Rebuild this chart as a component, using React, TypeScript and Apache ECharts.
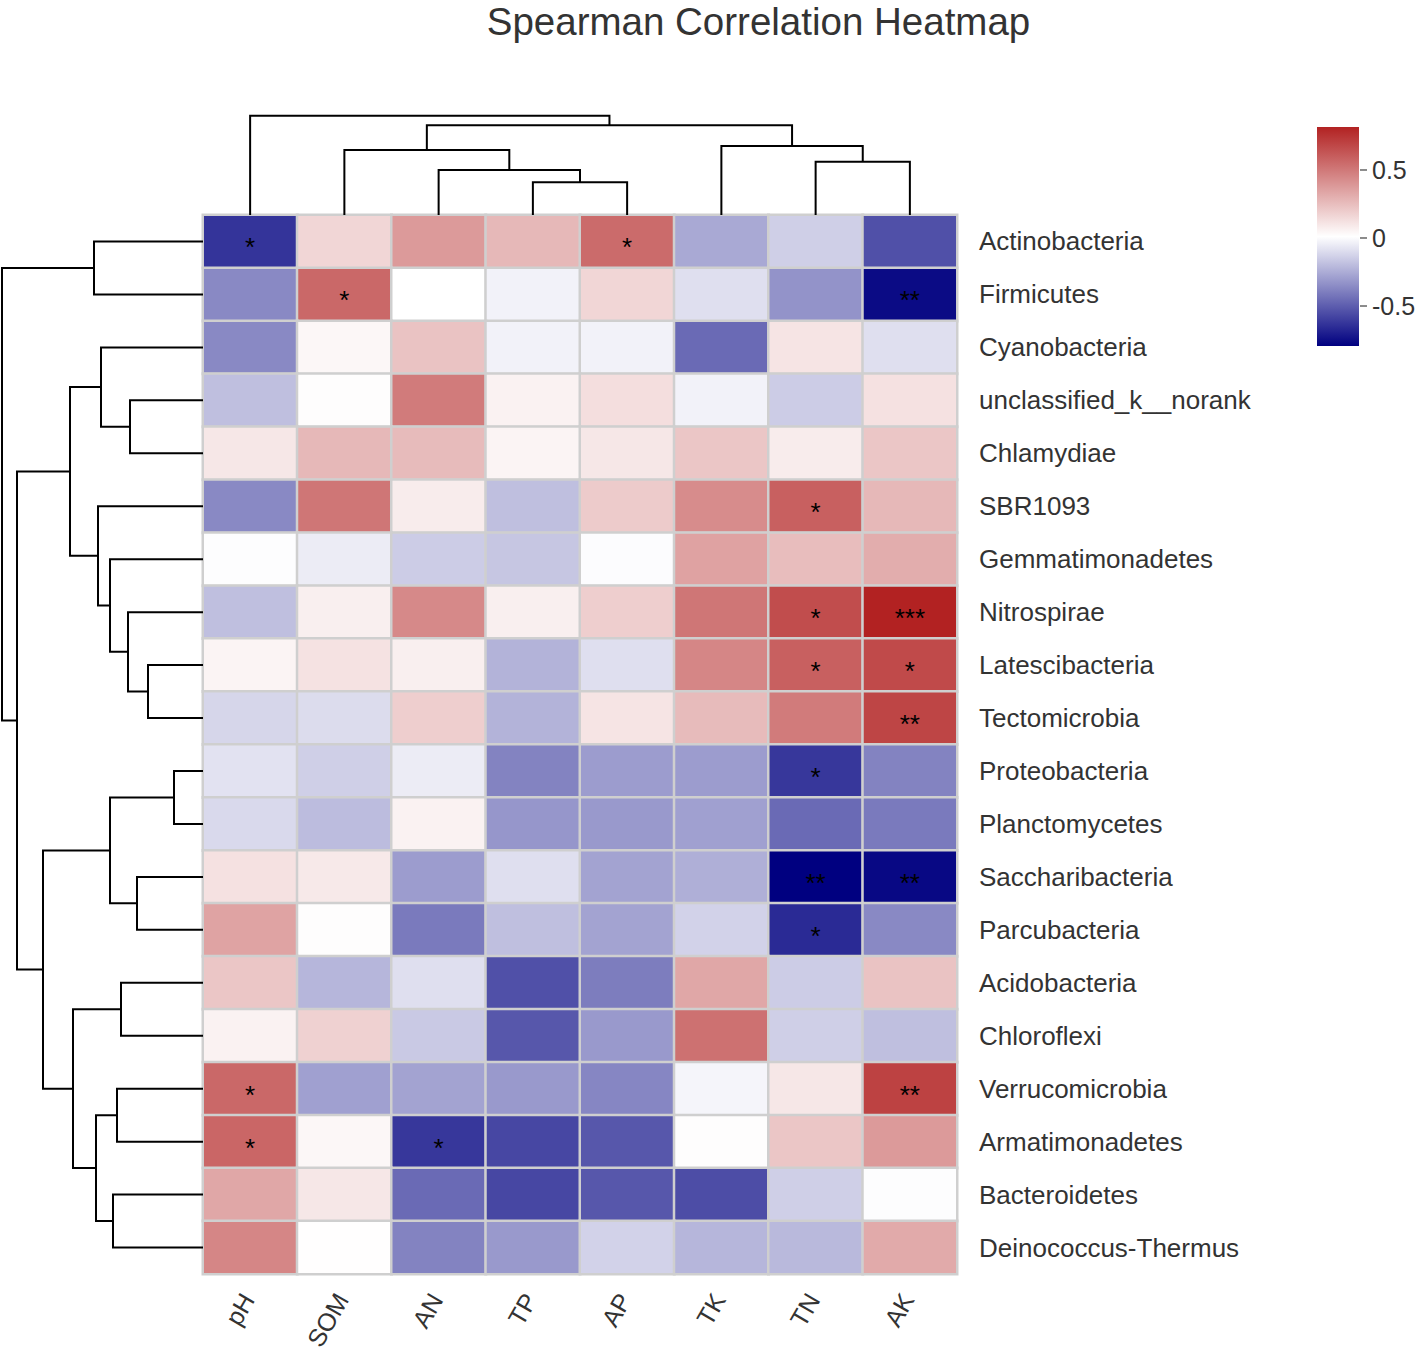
import React, { useEffect, useRef } from "react";
import * as echarts from "echarts";

const FONT = "'Liberation Sans', Arial, Helvetica, sans-serif";

const envFactors = ["pH", "SOM", "AN", "TP", "AP", "TK", "TN", "AK"];

const phyla = [
  "Actinobacteria",
  "Firmicutes",
  "Cyanobacteria",
  "unclassified_k__norank",
  "Chlamydiae",
  "SBR1093",
  "Gemmatimonadetes",
  "Nitrospirae",
  "Latescibacteria",
  "Tectomicrobia",
  "Proteobacteria",
  "Planctomycetes",
  "Saccharibacteria",
  "Parcubacteria",
  "Acidobacteria",
  "Chloroflexi",
  "Verrucomicrobia",
  "Armatimonadetes",
  "Bacteroidetes",
  "Deinococcus-Thermus",
];

// Spearman rho, rows = phyla, columns = envFactors
const corrValues: number[][] = [
  [-0.63, 0.16, 0.38, 0.27, 0.55, -0.26, -0.14, -0.54],
  [-0.36, 0.56, 0.01, -0.03, 0.16, -0.09, -0.33, -0.76],
  [-0.36, 0.04, 0.23, -0.03, -0.03, -0.46, 0.11, -0.09],
  [-0.19, 0.02, 0.49, 0.06, 0.13, -0.03, -0.15, 0.12],
  [0.1, 0.27, 0.26, 0.05, 0.1, 0.22, 0.08, 0.22],
  [-0.36, 0.51, 0.08, -0.19, 0.2, 0.43, 0.59, 0.27],
  [0.005, -0.05, -0.15, -0.17, 0.003, 0.35, 0.25, 0.31],
  [-0.19, 0.07, 0.44, 0.07, 0.19, 0.51, 0.66, 0.816],
  [0.05, 0.115, 0.07, -0.23, -0.09, 0.45, 0.59, 0.67],
  [-0.12, -0.1, 0.19, -0.23, 0.11, 0.26, 0.49, 0.69],
  [-0.08, -0.14, -0.05, -0.38, -0.3, -0.3, -0.62, -0.38],
  [-0.11, -0.2, 0.06, -0.32, -0.31, -0.29, -0.46, -0.41],
  [0.12, 0.09, -0.3, -0.09, -0.28, -0.24, -0.794, -0.77],
  [0.345, 0.02, -0.41, -0.19, -0.28, -0.13, -0.66, -0.36],
  [0.22, -0.22, -0.09, -0.54, -0.4, 0.33, -0.15, 0.23],
  [0.06, 0.18, -0.16, -0.52, -0.31, 0.53, -0.14, -0.19],
  [0.56, -0.29, -0.28, -0.31, -0.37, -0.02, 0.1, 0.7],
  [0.57, 0.04, -0.62, -0.57, -0.52, 0.02, 0.22, 0.38],
  [0.33, 0.1, -0.46, -0.57, -0.52, -0.55, -0.14, 0.005],
  [0.45, 0.015, -0.38, -0.31, -0.13, -0.22, -0.21, 0.32],
];

const signifMarks: string[][] = [
  ["*", "", "", "", "*", "", "", ""],
  ["", "*", "", "", "", "", "", "**"],
  ["", "", "", "", "", "", "", ""],
  ["", "", "", "", "", "", "", ""],
  ["", "", "", "", "", "", "", ""],
  ["", "", "", "", "", "", "*", ""],
  ["", "", "", "", "", "", "", ""],
  ["", "", "", "", "", "", "*", "***"],
  ["", "", "", "", "", "", "*", "*"],
  ["", "", "", "", "", "", "", "**"],
  ["", "", "", "", "", "", "*", ""],
  ["", "", "", "", "", "", "", ""],
  ["", "", "", "", "", "", "**", "**"],
  ["", "", "", "", "", "", "*", ""],
  ["", "", "", "", "", "", "", ""],
  ["", "", "", "", "", "", "", ""],
  ["*", "", "", "", "", "", "", "**"],
  ["*", "", "*", "", "", "", "", ""],
  ["", "", "", "", "", "", "", ""],
  ["", "", "", "", "", "", "", ""],
];

// hierarchical clustering merges: [childA, childB, height]; Lk = leaf k, Mk = k-th merge
const colMerges: [string, string, number][] = [
  ["L3", "L4", 32.7],
  ["L2", "M0", 45],
  ["L6", "L7", 53.3],
  ["L1", "M1", 65],
  ["L5", "M2", 69],
  ["M3", "M4", 89.7],
  ["L0", "M5", 99.3],
];

const rowMerges: [string, string, number][] = [
  ["L10", "L11", 29],
  ["L8", "L9", 55],
  ["L12", "L13", 66],
  ["L3", "L4", 73],
  ["L7", "M1", 75],
  ["L14", "L15", 82],
  ["L16", "L17", 86],
  ["L18", "L19", 90],
  ["L6", "M4", 93],
  ["M0", "M2", 93],
  ["L2", "M3", 102],
  ["L5", "M8", 105],
  ["M6", "M7", 107],
  ["L0", "L1", 109],
  ["M5", "M12", 130],
  ["M10", "M11", 133],
  ["M9", "M14", 160],
  ["M15", "M16", 186],
  ["M13", "M17", 201],
];

const colorMin = -0.794;
const colorMax = 0.816;
const colorbarTicks = [-0.5, 0, 0.5];
const palette = ["#000080", "#FFFFFF", "#B22222"];

function dendroSegments(merges: [string, string, number][], nLeaves: number) {
  const pos: Record<string, number> = {};
  const hgt: Record<string, number> = {};
  for (let i = 0; i < nLeaves; i++) {
    pos["L" + i] = i + 0.5;
    hgt["L" + i] = 0;
  }
  const segs: number[][] = [];
  merges.forEach(([a, b, h], k) => {
    const id = "M" + k;
    pos[id] = (pos[a] + pos[b]) / 2;
    hgt[id] = h;
    segs.push([pos[a], hgt[a], pos[b], hgt[b], h]);
  });
  return segs;
}

function buildOption(): any {
  const heatData: number[][] = [];
  corrValues.forEach((row, r) => row.forEach((v, c) => heatData.push([c, r, v])));
  const colSegs = dendroSegments(colMerges, envFactors.length);
  const rowSegs = dendroSegments(rowMerges, phyla.length);
  const colTop = colMerges[colMerges.length - 1][2];
  const rowTop = rowMerges[rowMerges.length - 1][2];

  const lineStyle = { stroke: "#000", lineWidth: 2, fill: "none" };

  return {
    animation: false,
    backgroundColor: "#ffffff",
    textStyle: { fontFamily: FONT },
    graphic: [
      {
        type: "text",
        x: 758.5,
        y: 21,
        style: {
          text: "Spearman Correlation Heatmap",
          fontSize: 38.5,
          fontFamily: FONT,
          fill: "#333333",
          align: "center",
          verticalAlign: "middle",
        },
      },
    ],
    grid: [
      { left: 203, top: 215, width: 754, height: 1059, outerBoundsMode: "none", containLabel: false },
      { left: 203, top: 215 - colTop, width: 754, height: colTop, outerBoundsMode: "none" },
      { left: 2, top: 215, width: 201, height: 1059, outerBoundsMode: "none" },
      { left: 1317, top: 127, width: 42, height: 219, outerBoundsMode: "none" },
    ],
    xAxis: [
      {
        type: "category",
        gridIndex: 0,
        data: envFactors,
        position: "bottom",
        axisLine: { show: false },
        axisTick: { show: false },
        splitLine: { show: false },
        axisLabel: {
          rotate: 60,
          margin: 17,
          padding: [0, 5, 0, 0],
          fontSize: 25,
          color: "#333333",
          fontFamily: FONT,
        },
      },
      { type: "value", gridIndex: 1, min: 0, max: envFactors.length, show: false },
      { type: "value", gridIndex: 2, min: 0, max: rowTop, inverse: true, show: false },
      { type: "value", gridIndex: 3, min: 0, max: 1, show: false },
    ],
    yAxis: [
      {
        type: "category",
        gridIndex: 0,
        data: phyla,
        inverse: true,
        position: "right",
        axisLine: { show: false },
        axisTick: { show: false },
        splitLine: { show: false },
        axisLabel: {
          margin: 22,
          fontSize: 26,
          color: "#333333",
          fontFamily: FONT,
          align: "left",
        },
      },
      { type: "value", gridIndex: 1, min: 0, max: colTop, show: false },
      { type: "value", gridIndex: 2, min: 0, max: phyla.length, inverse: true, show: false },
      {
        type: "value",
        gridIndex: 3,
        min: colorMin,
        max: colorMax,
        position: "right",
        axisLine: { show: false },
        splitLine: { show: false },
        axisTick: { show: false },
        axisLabel: {
          show: true,
          margin: 13,
          fontSize: 25,
          color: "#333333",
          fontFamily: FONT,
          customValues: colorbarTicks,
          formatter: (v: number) => String(v),
        },
      },
    ],
    visualMap: {
      show: false,
      type: "continuous",
      min: colorMin,
      max: colorMax,
      dimension: 2,
      seriesIndex: 0,
      inRange: { color: palette },
    },
    series: [
      {
        type: "heatmap",
        xAxisIndex: 0,
        yAxisIndex: 0,
        data: heatData,
        itemStyle: { borderColor: "#cfcfcf", borderWidth: 2.5 },
        emphasis: { disabled: true },
        label: {
          show: true,
          formatter: (p: any) => signifMarks[p.value[1]][p.value[0]],
          color: "#000000",
          fontSize: 26,
          fontFamily: FONT,
          offset: [0, 6],
        },
      },
      {
        type: "custom",
        xAxisIndex: 1,
        yAxisIndex: 1,
        data: colSegs,
        silent: true,
        renderItem: (_params: any, api: any) => {
          const pa = api.value(0), ha = api.value(1), pb = api.value(2), hb = api.value(3), h = api.value(4);
          const pts = [
            [pa, ha],
            [pa, h],
            [pb, h],
            [pb, hb],
          ].map((p) => api.coord(p));
          return { type: "polyline", shape: { points: pts }, style: lineStyle };
        },
      },
      {
        type: "custom",
        xAxisIndex: 2,
        yAxisIndex: 2,
        data: rowSegs,
        silent: true,
        renderItem: (_params: any, api: any) => {
          const pa = api.value(0), ha = api.value(1), pb = api.value(2), hb = api.value(3), h = api.value(4);
          const pts = [
            [ha, pa],
            [h, pa],
            [h, pb],
            [hb, pb],
          ].map((p) => api.coord(p));
          return { type: "polyline", shape: { points: pts }, style: lineStyle };
        },
      },
      {
        type: "custom",
        xAxisIndex: 3,
        yAxisIndex: 3,
        data: [[0, colorMin, 1, colorMax]],
        silent: true,
        renderItem: (_params: any, api: any) => {
          const p1 = api.coord([api.value(0), api.value(3)]);
          const p2 = api.coord([api.value(2), api.value(1)]);
          return {
            type: "rect",
            shape: { x: p1[0], y: p1[1], width: p2[0] - p1[0], height: p2[1] - p1[1] },
            style: {
              fill: new echarts.graphic.LinearGradient(0, 0, 0, 1, [
                { offset: 0, color: palette[2] },
                { offset: 0.5, color: palette[1] },
                { offset: 1, color: palette[0] },
              ]),
            },
          };
        },
      },
      {
        type: "custom",
        xAxisIndex: 3,
        yAxisIndex: 3,
        data: colorbarTicks.map((v) => [1, v]),
        silent: true,
        renderItem: (_params: any, api: any) => {
          const p = api.coord([api.value(0), api.value(1)]);
          return {
            type: "line",
            shape: { x1: p[0] + 1, y1: p[1], x2: p[0] + 8, y2: p[1] },
            style: { stroke: "#666666", lineWidth: 1.5 },
          };
        },
      },
    ],
  };
}

export default function App() {
  const ref = useRef<HTMLDivElement>(null);
  useEffect(() => {
    document.body.style.margin = "0";
    if (!ref.current) return;
    const chart = echarts.init(ref.current, null, { renderer: "svg" });
    chart.setOption(buildOption());
    return () => chart.dispose();
  }, []);
  return <div ref={ref} style={{ width: 1424, height: 1352 }} />;
}
